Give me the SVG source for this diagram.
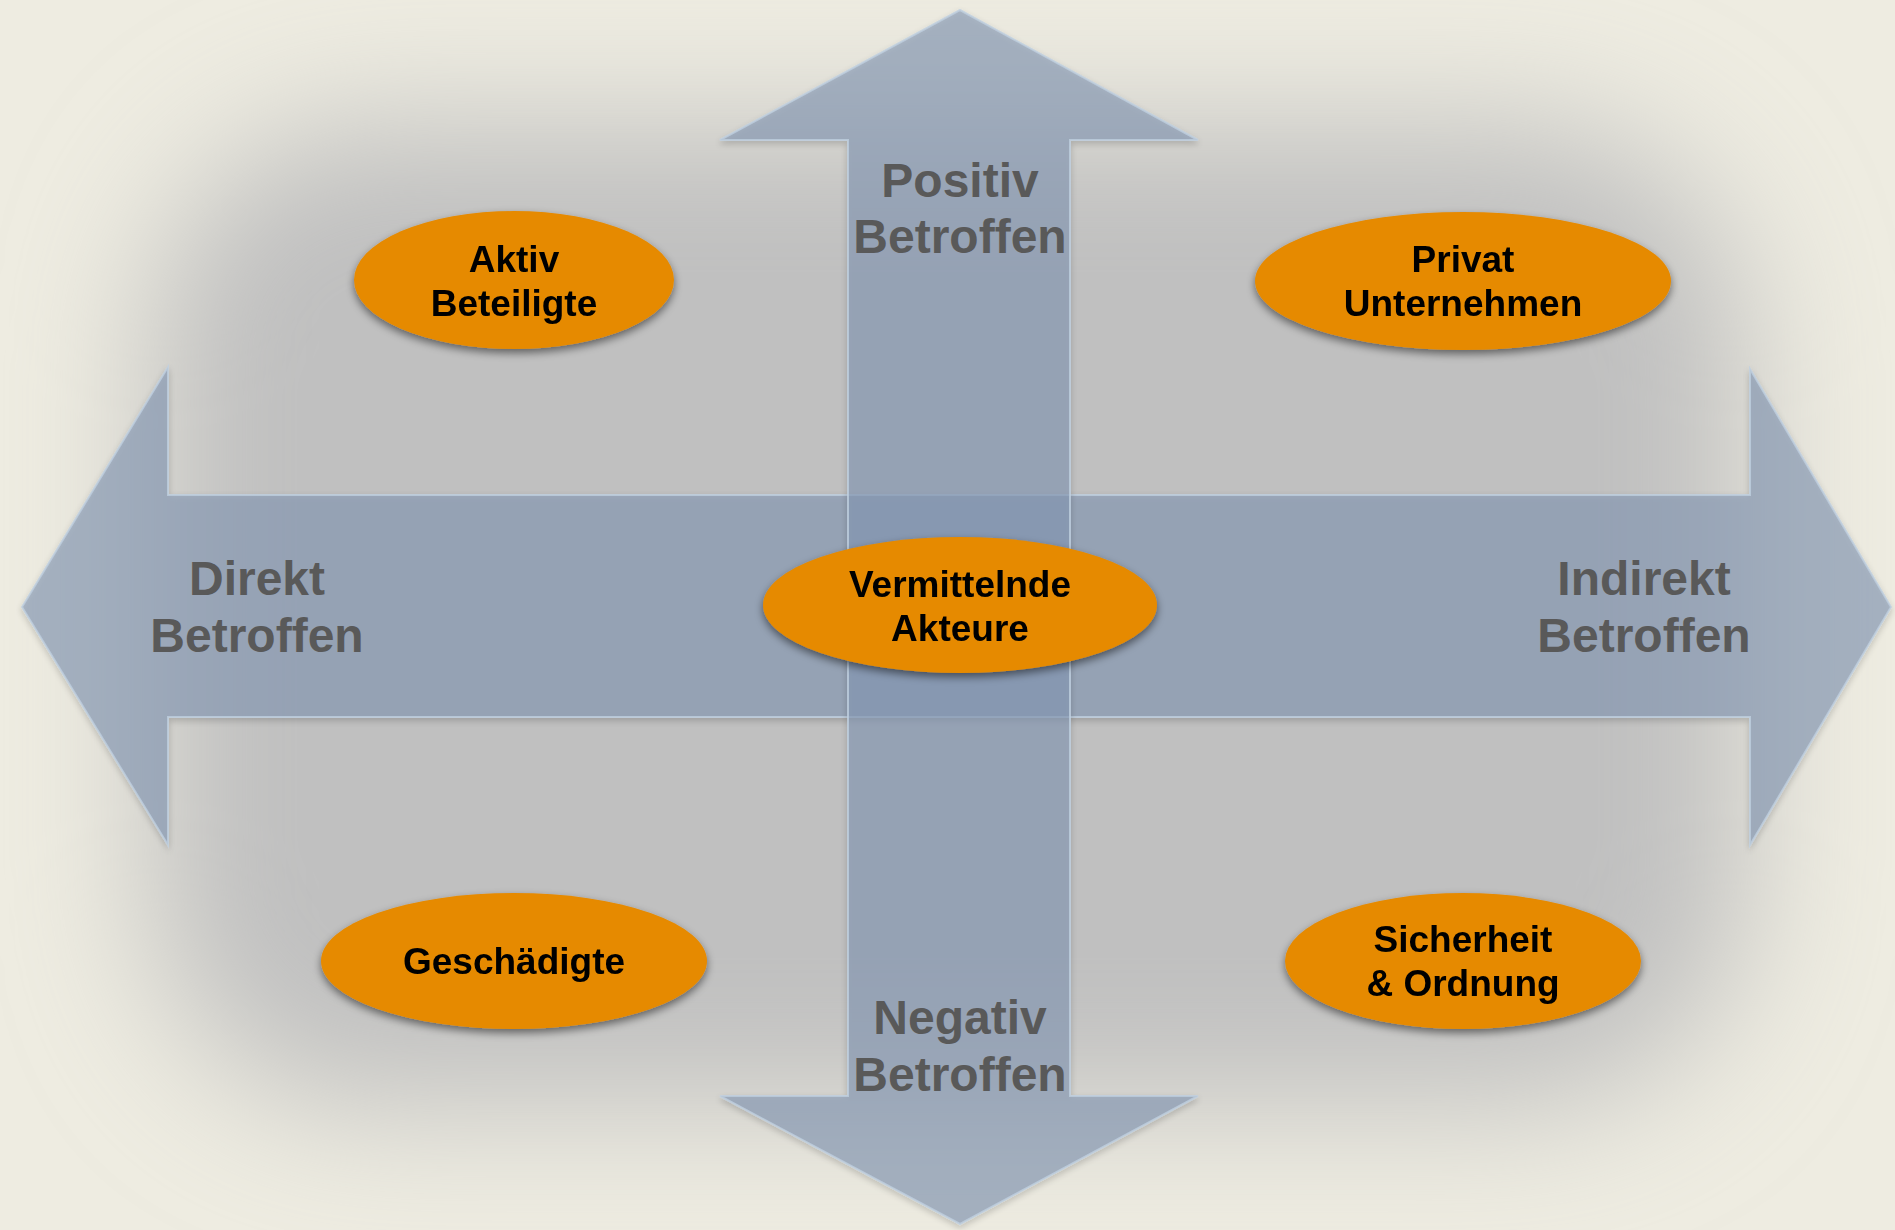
<svg xmlns="http://www.w3.org/2000/svg" width="1895" height="1230" viewBox="0 0 1895 1230">
  <defs>
    <filter id="bgblur" x="-20%" y="-20%" width="140%" height="140%">
      <feGaussianBlur stdDeviation="70"/>
    </filter>
    <filter id="shadow" x="-20%" y="-20%" width="140%" height="150%">
      <feGaussianBlur in="SourceAlpha" stdDeviation="4"/>
      <feOffset dx="0" dy="4" result="b"/>
      <feComponentTransfer><feFuncA type="linear" slope="0.5"/></feComponentTransfer>
      <feMerge><feMergeNode/><feMergeNode in="SourceGraphic"/></feMerge>
    </filter>
    <filter id="ashadow" x="-5%" y="-5%" width="110%" height="110%">
      <feGaussianBlur in="SourceAlpha" stdDeviation="3"/>
      <feOffset dx="0" dy="3" result="b"/>
      <feComponentTransfer><feFuncA type="linear" slope="0.25"/></feComponentTransfer>
      <feMerge><feMergeNode/><feMergeNode in="SourceGraphic"/></feMerge>
    </filter>
  </defs>
  <style>
    .arrow { fill: #869AB7; fill-opacity: 0.62; stroke: #BFCFE0; stroke-opacity: 0.8; stroke-width: 2; }
    .node ellipse { fill: #E68A05; }
    .nt { font-family: "Liberation Sans", Arial, sans-serif; font-weight: bold; font-size: 37px; fill: #000; text-anchor: middle; }
    .lt { font-family: "Liberation Sans", Arial, sans-serif; font-weight: bold; font-size: 48px; fill: #595959; text-anchor: middle; }
  </style>
  <rect x="0" y="0" width="1895" height="1230" fill="#EEECE1"/>
  <rect x="150" y="125" width="1595" height="980" rx="220" fill="#C0C0C0" filter="url(#bgblur)"/>
  <g id="connectors">
    <path id="h-arrow" class="arrow" filter="url(#ashadow)" d="M22,607 L168,367 L168,495 L1750,495 L1750,369 L1891,607 L1750,845 L1750,717 L168,717 L168,845 Z"/>
    <path id="v-arrow" class="arrow" filter="url(#ashadow)" d="M960,10 L1198,140 L1070,140 L1070,1096 L1198,1096 L960,1224 L720,1096 L848,1096 L848,140 L720,140 Z"/>
  </g>
  <g id="axis-labels">
    <text class="lt" x="960" y="197">Positiv</text>
    <text class="lt" x="960" y="253">Betroffen</text>
    <text class="lt" x="960" y="1034">Negativ</text>
    <text class="lt" x="960" y="1091">Betroffen</text>
    <text class="lt" x="257" y="595">Direkt</text>
    <text class="lt" x="257" y="652">Betroffen</text>
    <text class="lt" x="1644" y="595">Indirekt</text>
    <text class="lt" x="1644" y="652">Betroffen</text>
  </g>
  <g id="node-aktiv" class="node" filter="url(#shadow)">
    <ellipse cx="514" cy="280" rx="160" ry="69"/>
    <text class="nt" x="514" y="272">Aktiv</text>
    <text class="nt" x="514" y="316">Beteiligte</text>
  </g>
  <g id="node-privat" class="node" filter="url(#shadow)">
    <ellipse cx="1463" cy="281" rx="208" ry="69"/>
    <text class="nt" x="1463" y="272">Privat</text>
    <text class="nt" x="1463" y="316">Unternehmen</text>
  </g>
  <g id="node-vermittelnde" class="node" filter="url(#shadow)">
    <ellipse cx="960" cy="605" rx="197" ry="68"/>
    <text class="nt" x="960" y="597">Vermittelnde</text>
    <text class="nt" x="960" y="641">Akteure</text>
  </g>
  <g id="node-geschaedigte" class="node" filter="url(#shadow)">
    <ellipse cx="514" cy="961" rx="193" ry="68"/>
    <text class="nt" x="514" y="974">Geschädigte</text>
  </g>
  <g id="node-sicherheit" class="node" filter="url(#shadow)">
    <ellipse cx="1463" cy="961" rx="178" ry="68"/>
    <text class="nt" x="1463" y="952">Sicherheit</text>
    <text class="nt" x="1463" y="996">&amp; Ordnung</text>
  </g>
</svg>
